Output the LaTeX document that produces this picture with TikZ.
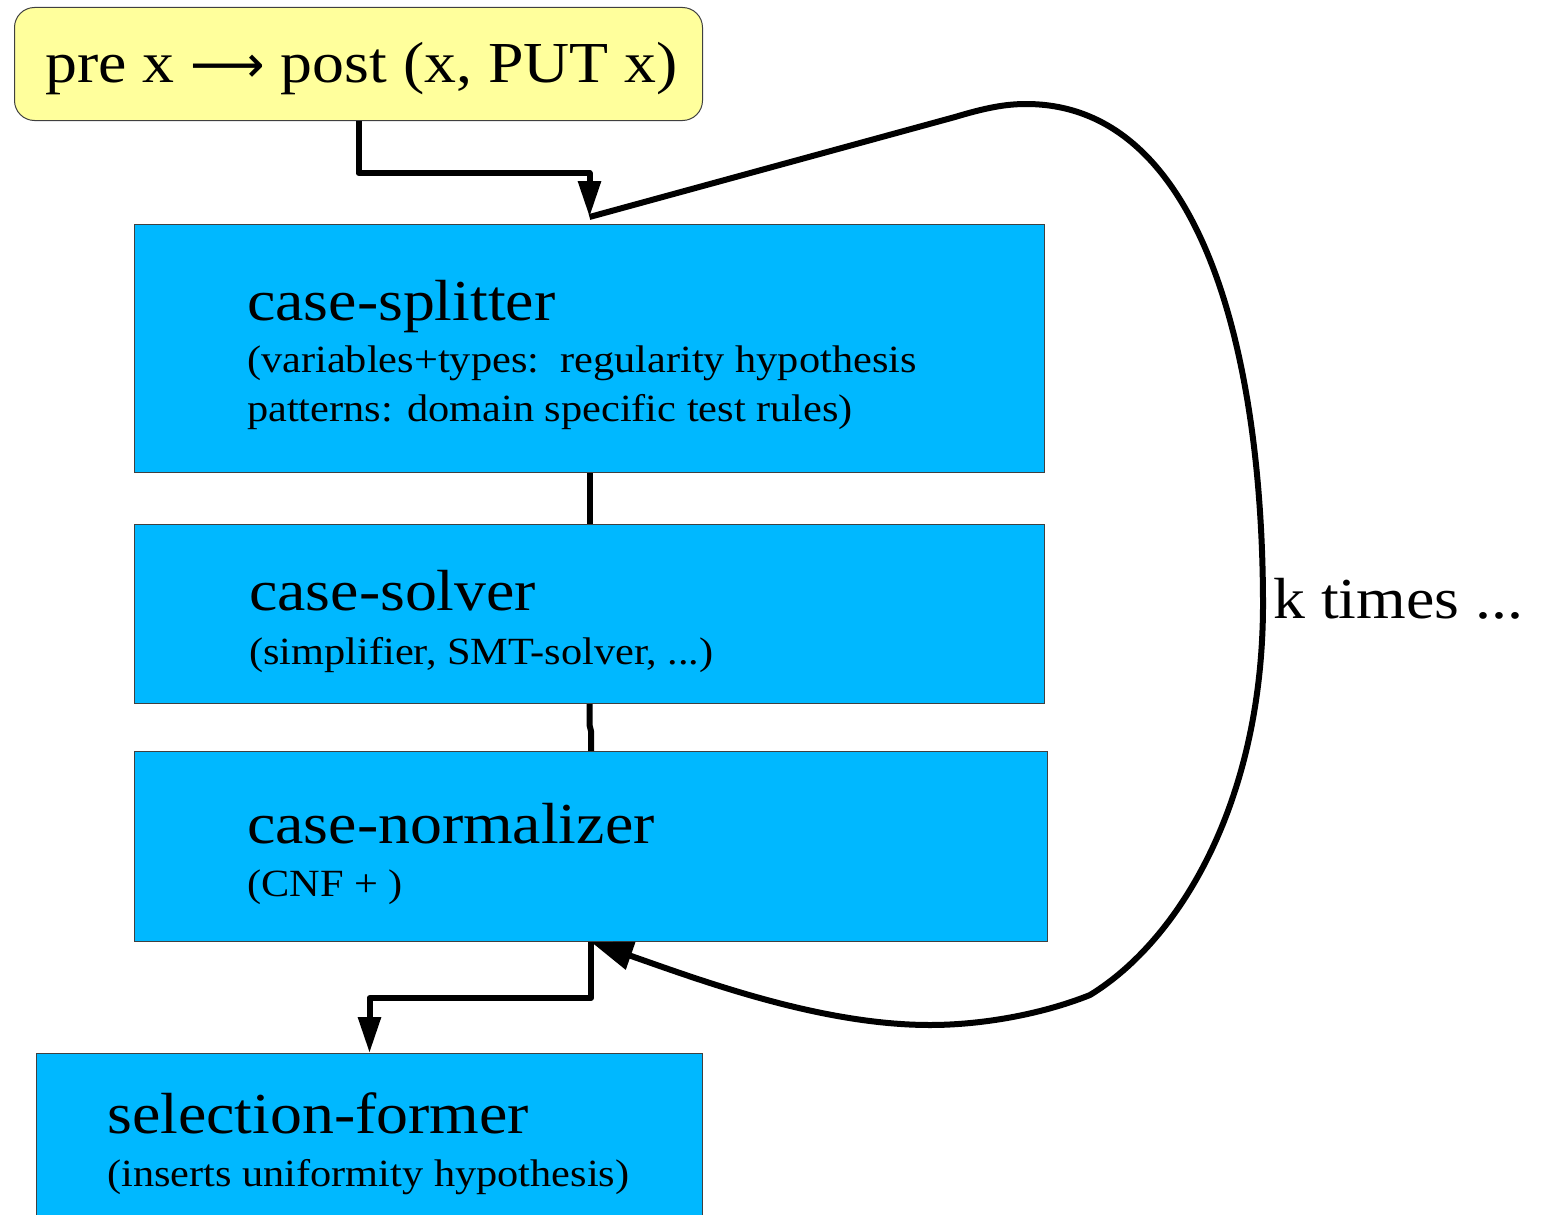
\documentclass[tikz,border=0pt]{standalone}
\usepackage{fontspec}
\setmainfont{Liberation Serif}[FakeStretch=1.1]
\newfontfamily\arrowfont{DejaVu Sans}
\usetikzlibrary{arrows.meta,calc}
\definecolor{stagefill}{HTML}{00B8FF}
\definecolor{inputfill}{HTML}{FFFF9C}
\definecolor{edgegray}{HTML}{404040}
\begin{document}
\begin{tikzpicture}[x=1pt,y=-1pt,
  stagebox/.style={draw=edgegray,line width=1pt,fill=stagefill,inner sep=0pt,anchor=north west},
  inputbox/.style={draw=edgegray,line width=1pt,fill=inputfill,rounded corners=20pt,inner sep=0pt,anchor=north west},
  title/.style={inner sep=0pt,anchor=base west,font=\fontsize{58}{64}\selectfont},
  note/.style={inner sep=0pt,anchor=base west,font=\fontsize{38.5}{48}\selectfont},
  flow/.style={line width=6pt,line join=round},
  tipA/.style={-{Triangle[length=36pt,width=22pt]}},
  tipB/.style={-{Triangle[length=42pt,width=28pt]}}]
\useasboundingbox (0,0) rectangle (1542,1215);
\clip (0,0) rectangle (1542,1215);
% boxes
\node[inputbox,minimum width=688pt,minimum height=113pt] (input) at (14,7) {};
\node[stagebox,minimum width=910pt,minimum height=248pt] (splitter) at (134,224) {};
\node[stagebox,minimum width=910pt,minimum height=179pt] (solver) at (134,524) {};
\node[stagebox,minimum width=913pt,minimum height=190pt] (normalizer) at (134,751) {};
\node[stagebox,minimum width=666pt,minimum height=180pt] (selector) at (36,1053) {};
% texts
\node[title] (inputtext) at (45,82) {pre x {\arrowfont\fontsize{52}{60}\selectfont ⟶} post (x, PUT x)};
\node[title] (splittertitle) at (247,320) {case-splitter};
\node[note] (splitternote1) at (247,372) {(variables+types:\ \ regularity hypothesis};
\node[note] (splitternote2) at (247,421) {patterns: domain specific test rules)};
\node[title] (solvertitle) at (249,610) {case-solver};
\node[note] (solvernote) at (249,664) {(simplifier, SMT-solver, ...)};
\node[title] (normtitle) at (247,843) {case-normalizer};
\node[note] (normnote) at (247,896) {(CNF + )};
\node[title] (seltitle) at (107,1133) {selection-former};
\node[note] (selnote) at (107,1186) {(inserts uniformity hypothesis)};
\node[title] (ktimes) at (1273,618) {k times ...};
% connectors
\coordinate (loopin) at ([yshift=7pt]splitter.north);
\draw[flow,tipA] (input.south) -- ++(0,52) -| (loopin);
\draw[flow] (splitter.south) -- (solver.north);
\draw[flow] (solver.south) -- ++(0,21) -- ++(1.5,6) -- (normalizer.north);
\draw[flow,tipA] (normalizer.south) -- ++(0,56) -| (selector.north);
\coordinate (k1) at (955,117);
\coordinate (k2) at (1026,104);
\coordinate (k3) at (1263,600);
\coordinate (k4) at (1090,995);
\coordinate (k5) at (930,1025);
\draw[flow,tipB] (loopin) -- (k1)
  .. controls (985,108) and (1005,104) .. (k2)
  .. controls (1200,104) and (1262,350) .. (k3)
  .. controls (1264,800) and (1180,940) .. (k4)
  .. controls (1040,1015) and (980,1025) .. (k5)
  .. controls (820,1025) and (700,980) .. (normalizer.south);
\end{tikzpicture}
\end{document}
